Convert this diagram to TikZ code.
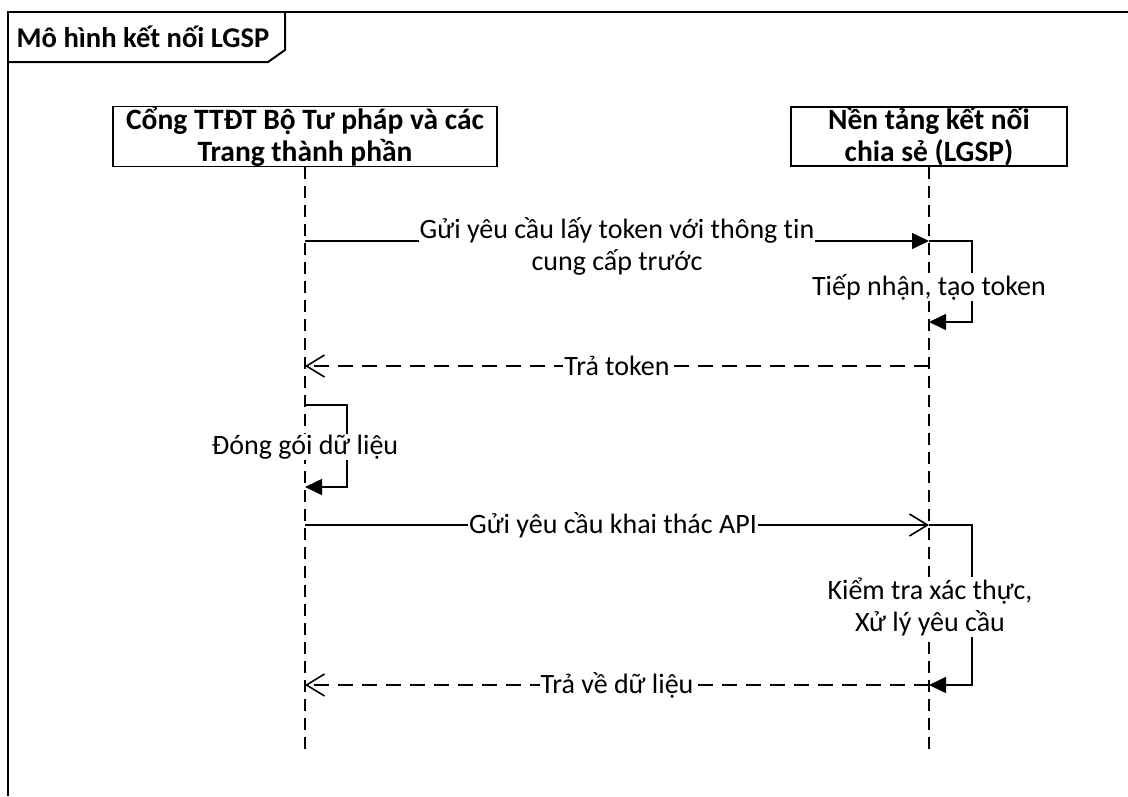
\documentclass[tikz,border=0pt]{standalone}
\usepackage{fontspec}
\setmainfont{Carlito}[Ligatures=NoCommon]
\usepackage{tikz}
\usetikzlibrary{arrows.meta}
\newcommand{\txt}{\fontsize{28}{32}\selectfont}
\tikzstyle{actor}=[draw, line width=1.6pt, align=center, inner sep=0pt, font=\fontsize{29.5}{32}\selectfont\bfseries]
\tikzstyle{life}=[line width=1.6pt, dash pattern=on 12pt off 7pt]
\tikzstyle{msg}=[line width=1.6pt]
\tikzstyle{ret}=[line width=1.6pt, dash pattern=on 15pt off 9pt]
\tikzstyle{full}=[-{Triangle[length=17pt, width=16pt]}]
\tikzstyle{open}=[-{Straight Barb[length=18pt, width=22pt, line width=1.6pt]}]
\tikzstyle{l}=[draw=none, rectangle, fill=white, inner sep=1pt, align=center]

\begin{document}
\begin{tikzpicture}[x=1pt, y=-1pt, font=\txt]
\useasboundingbox (0,0) rectangle (1128,796);
% frame and title tab
\draw[line width=2pt] (8,796) -- (8,12) -- (1128,12);
\draw[line width=2pt] (8,62) -- (268,62) -- (285,50) -- (285,12);
\node[draw=none, font=\fontsize{28.6}{32}\selectfont\bfseries] (title) at (143,37) {Mô hình kết nối LGSP};
% lifelines
\node[actor, minimum width=384pt, minimum height=57pt] (a) at (305,136.5)
  {Cổng TTĐT Bộ Tư pháp và các\\Trang thành phần};
\node[actor, minimum width=276pt, minimum height=57pt] (b) at (929,136.5)
  {Nền tảng kết nối\\chia sẻ (LGSP)};
\coordinate (a end) at (305,752);
\coordinate (b end) at (929,752);
\draw[life] (a) -- (a end);
\draw[life] (b) -- (b end);
\foreach \n/\y in {1/241, 2/366, 3/405, 4/487, 5/525, 6/685}
  \coordinate (a\n) at (305,\y);
\foreach \n/\y in {1/241, 2/322, 3/366, 4/525, 5/685}
  \coordinate (b\n) at (929,\y);
% messages
\draw[msg, full] (a1) -- (b1);
\draw[msg, full] (b1) -- ++(43,0) |- (b2);
\draw[ret, open] (b3) -- (a2);
\draw[msg, full] (a3) -- ++(42,0) |- (a4);
\draw[msg, open] (a5) -- (b4);
\draw[msg, full] (b4) -- ++(43,0) |- (b5);
\draw[ret, open] (b5) -- (a6);
% labels
\node[l] (m1) at (617,246) {Gửi yêu cầu lấy token với thông tin\\cung cấp trước};
\node[l] (m2) at (929,287) {Tiếp nhận, tạo token};
\node[l] (m3) at (617,366) {Trả token};
\node[l] (m4) at (305,447) {Đóng gói dữ liệu};
\node[l] (m5) at (613,525) {Gửi yêu cầu khai thác API};
\node[l] (m6) at (930,607) {Kiểm tra xác thực,\\Xử lý yêu cầu};
\node[l] (m7) at (617,685) {Trả về dữ liệu};
\end{tikzpicture}
\end{document}
